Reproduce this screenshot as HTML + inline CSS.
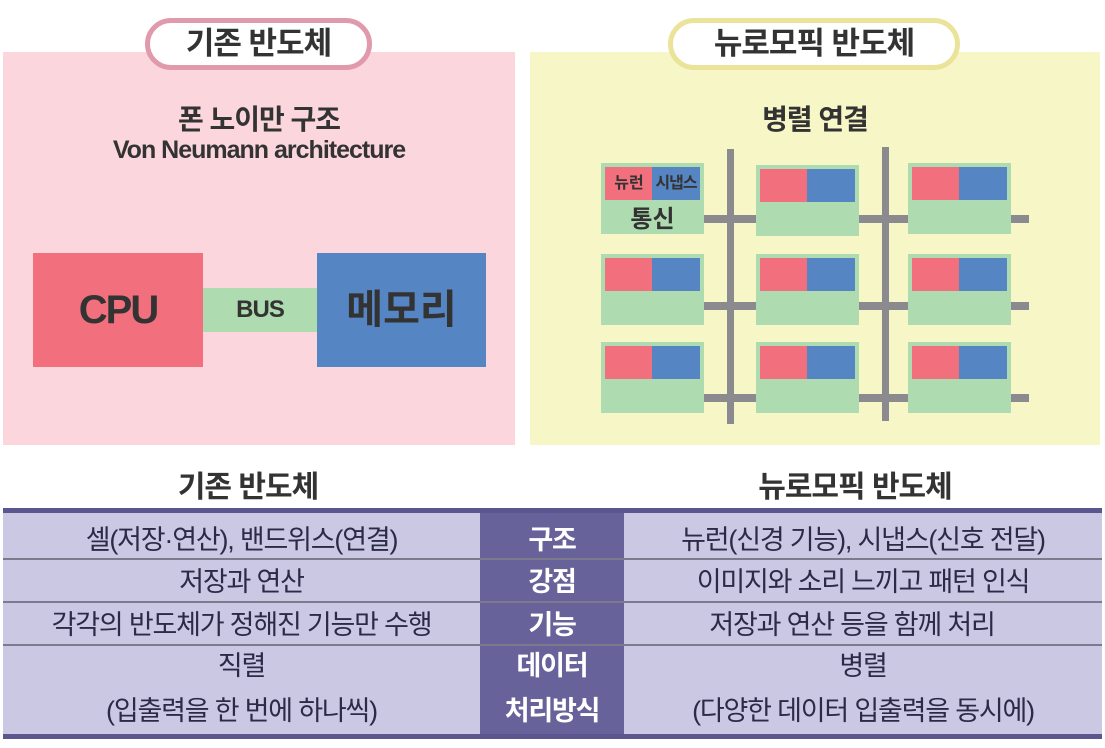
<!DOCTYPE html>
<html><head><meta charset="utf-8"><style>
*{margin:0;padding:0;box-sizing:border-box}
body{width:1105px;height:748px;background:#fff;position:relative;overflow:hidden;font-family:"Liberation Sans","Noto Sans CJK KR",sans-serif;color:#333}
.a{position:absolute}
.t{position:absolute;text-align:center;white-space:nowrap}
.pill{position:absolute;background:#fff;border-radius:30px;font-weight:bold;font-size:31px;text-align:center;line-height:42px;color:#333;letter-spacing:-1px}
.cell{position:absolute;background:#aedbaf;width:103px;height:71px}
.cell i{position:absolute;top:4px;width:48px;height:33px}
.r{left:4px;background:#f2707d}.b{left:51px;background:#5585c2}
.g{position:absolute;background:#8a8a8f}
.row{position:absolute;left:3px;width:1099px;font-size:27px;line-height:40px;color:#2b2b48;letter-spacing:-1.2px}
.row div{position:absolute;text-align:center;white-space:nowrap}
.l{left:0;width:477px}.m{left:477px;width:144px;color:#fff;font-weight:bold}.rr{left:621px;width:478px}
.sep{position:absolute;left:3px;width:1099px;height:2px;background:#7d7a8e}
</style></head><body>
<div class="a" style="left:3px;top:52px;width:512px;height:393px;background:#fbd7dd"></div>
<div class="a" style="left:530px;top:52px;width:570px;height:393px;background:#f7f6c6"></div>
<div class="pill" style="left:145px;top:18px;width:227px;height:52px;border:5px solid #e09aac">기존 반도체</div>
<div class="pill" style="left:668px;top:18px;width:292px;height:52px;border:5px solid #ebe39a">뉴로모픽 반도체</div>
<div class="t" style="left:3px;width:512px;top:98px;font-size:28px;font-weight:bold;letter-spacing:-1px">폰 노이만 구조</div>
<div class="t" style="left:3px;width:512px;top:136px;font-size:25px;font-weight:bold;letter-spacing:-1px">Von Neumann architecture</div>
<div class="a" style="left:33px;top:253px;width:170px;height:114px;background:#f2707d;font-size:40px;font-weight:bold;text-align:center;line-height:114px;letter-spacing:-2px">CPU</div>
<div class="a" style="left:203px;top:288px;width:114px;height:44px;background:#aedbaf;font-size:24px;font-weight:bold;text-align:center;line-height:44px;letter-spacing:-1px">BUS</div>
<div class="a" style="left:317px;top:253px;width:169px;height:114px;background:#5585c2;font-size:40px;font-weight:bold;text-align:center;line-height:114px">메모리</div>
<div class="t" style="left:530px;width:570px;top:98px;font-size:28px;font-weight:bold;letter-spacing:-1px">병렬 연결</div>
<div class="g" style="left:727px;top:149px;width:7px;height:275px"></div>
<div class="g" style="left:882px;top:147px;width:7px;height:274px"></div>
<div class="g" style="left:704px;top:215px;width:52px;height:8px"></div>
<div class="g" style="left:859px;top:215px;width:49px;height:8px"></div>
<div class="g" style="left:1011px;top:215px;width:18px;height:8px"></div>
<div class="g" style="left:704px;top:302px;width:52px;height:8px"></div>
<div class="g" style="left:859px;top:302px;width:49px;height:8px"></div>
<div class="g" style="left:1011px;top:302px;width:18px;height:8px"></div>
<div class="g" style="left:704px;top:394px;width:52px;height:8px"></div>
<div class="g" style="left:859px;top:394px;width:49px;height:8px"></div>
<div class="g" style="left:1011px;top:394px;width:18px;height:8px"></div>
<div class="cell" style="left:601px;top:163px"><i class="r" style="font-style:normal;font-size:16px;font-weight:bold;text-align:center;line-height:33px">뉴런</i><i class="b" style="font-style:normal;font-size:16px;font-weight:bold;text-align:center;line-height:33px;letter-spacing:-1px">시냅스</i><div class="t" style="left:0;width:103px;top:36px;font-size:24px;font-weight:bold">통신</div></div>
<div class="cell" style="left:756px;top:165px"><i class="r"></i><i class="b"></i></div>
<div class="cell" style="left:908px;top:163px"><i class="r"></i><i class="b"></i></div>
<div class="cell" style="left:601px;top:254px"><i class="r"></i><i class="b"></i></div>
<div class="cell" style="left:756px;top:254px"><i class="r"></i><i class="b"></i></div>
<div class="cell" style="left:908px;top:254px"><i class="r"></i><i class="b"></i></div>
<div class="cell" style="left:601px;top:342px"><i class="r"></i><i class="b"></i></div>
<div class="cell" style="left:756px;top:342px"><i class="r"></i><i class="b"></i></div>
<div class="cell" style="left:908px;top:342px"><i class="r"></i><i class="b"></i></div>
<div class="t" style="left:3px;width:490px;top:462px;font-size:30px;font-weight:bold;letter-spacing:-1px">기존 반도체</div>
<div class="t" style="left:610px;width:490px;top:462px;font-size:30px;font-weight:bold;letter-spacing:-1px">뉴로모픽 반도체</div>
<div class="a" style="left:3px;top:508px;width:1099px;height:230px;background:#cbc8e3"></div>
<div class="a" style="left:480px;top:508px;width:144px;height:230px;background:#67639a"></div>
<div class="a" style="left:3px;top:508px;width:1099px;height:5px;background:#5b5690"></div>
<div class="a" style="left:3px;top:734px;width:1099px;height:5px;background:#5b5690"></div>
<div class="sep" style="top:558px"></div>
<div class="sep" style="top:601px"></div>
<div class="sep" style="top:644px"></div>
<div class="row" style="top:520px"><div class="l">셀(저장·연산), 밴드위스(연결)</div><div class="m">구조</div><div class="rr">뉴런(신경 기능), 시냅스(신호 전달)</div></div>
<div class="row" style="top:562px"><div class="l">저장과 연산</div><div class="m">강점</div><div class="rr">이미지와 소리 느끼고 패턴 인식</div></div>
<div class="row" style="top:605px"><div class="l">각각의 반도체가 정해진 기능만 수행</div><div class="m">기능</div><div class="rr" style="left:610px">저장과 연산 등을 함께 처리</div></div>
<div class="row" style="top:646px"><div class="l">직렬</div><div class="m">데이터</div><div class="rr">병렬</div></div>
<div class="row" style="top:691px"><div class="l">(입출력을 한 번에 하나씩)</div><div class="m">처리방식</div><div class="rr">(다양한 데이터 입출력을 동시에)</div></div>
</body></html>
